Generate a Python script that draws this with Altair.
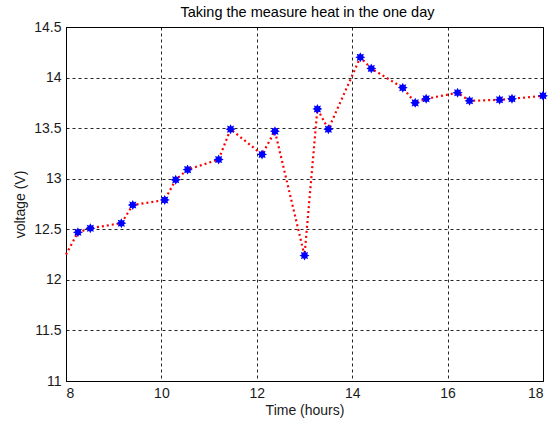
import altair as alt
import pandas as pd

time_h = [8.0, 8.25, 8.51, 9.16, 9.40, 10.07, 10.30, 10.55, 11.20, 11.45, 12.11, 12.38,
          13.0, 13.27, 13.50, 14.17, 14.40, 15.06, 15.32, 15.55, 16.21, 16.46, 17.09, 17.35, 18.0]
voltage = [12.25, 12.47, 12.51, 12.56, 12.74, 12.79, 12.99, 13.09, 13.19, 13.49, 13.24, 13.47,
           12.24, 13.69, 13.49, 14.20, 14.09, 13.90, 13.75, 13.79, 13.85, 13.77, 13.78, 13.79, 13.82]
marked = [False, True, True, True, True, True, True, True, True, True, True, True,
          True, True, True, True, True, True, True, True, True, True, True, True, True]
x_ticks = [8, 10, 12, 14, 16, 18]
y_ticks = [11, 11.5, 12, 12.5, 13, 13.5, 14, 14.5]

df = pd.DataFrame({"t": time_h, "v": voltage, "m": marked, "order": list(range(len(time_h)))})

FONT = "Liberation Sans"
STAR = ("M1,0L0.554,0.23L0.707,0.707L0.23,0.554L0,1L-0.23,0.554L-0.707,0.707L-0.554,0.23"
        "L-1,0L-0.554,-0.23L-0.707,-0.707L-0.23,-0.554L0,-1L0.23,-0.554L0.707,-0.707L0.554,-0.23Z")

x = alt.X("t:Q", scale=alt.Scale(domain=[8, 18], nice=False, zero=False),
          axis=alt.Axis(values=x_ticks, title="Time (hours)", format="d"))
y = alt.Y("v:Q", scale=alt.Scale(domain=[11, 14.5], nice=False, zero=False),
          axis=alt.Axis(values=y_ticks, title="voltage (V)", format="~g"))

line = alt.Chart(df).mark_line(color="#ff0000", strokeWidth=2.2, strokeDash=[2, 3]).encode(
    x=x, y=y, order="order:Q")
pts = alt.Chart(df).transform_filter("datum.m").mark_point(
    filled=True, color="#0000ff", size=100, opacity=1, shape=STAR).encode(x=x, y=y)

chart = (line + pts).properties(
    width=477, height=354,
    title=alt.Title("Taking the measure heat in the one day", font=FONT, fontSize=14.5,
                    fontWeight="normal", color="#000", offset=5, dx=3, dy=5),
    padding={"left": 66, "top": 27, "right": 9, "bottom": 46},
    autosize=alt.AutoSizeParams(type="none"),
    background="white",
).configure_view(stroke="#000", strokeWidth=1).configure_axis(
    grid=True, gridColor="#000", gridDash=[3, 3], gridWidth=1, gridOpacity=0.85,
    domainColor="#000", ticks=False, labelFont=FONT, labelFontSize=14, labelColor="#1a1a1a",
    titleFont=FONT, titleFontSize=14, titleFontWeight="normal", titleColor="#1a1a1a",
).configure_axisX(labelPadding=5, titlePadding=3).configure_axisY(labelPadding=5, titlePadding=6)

chart.save("out.html", embed_options={"renderer": "svg", "actions": False})
